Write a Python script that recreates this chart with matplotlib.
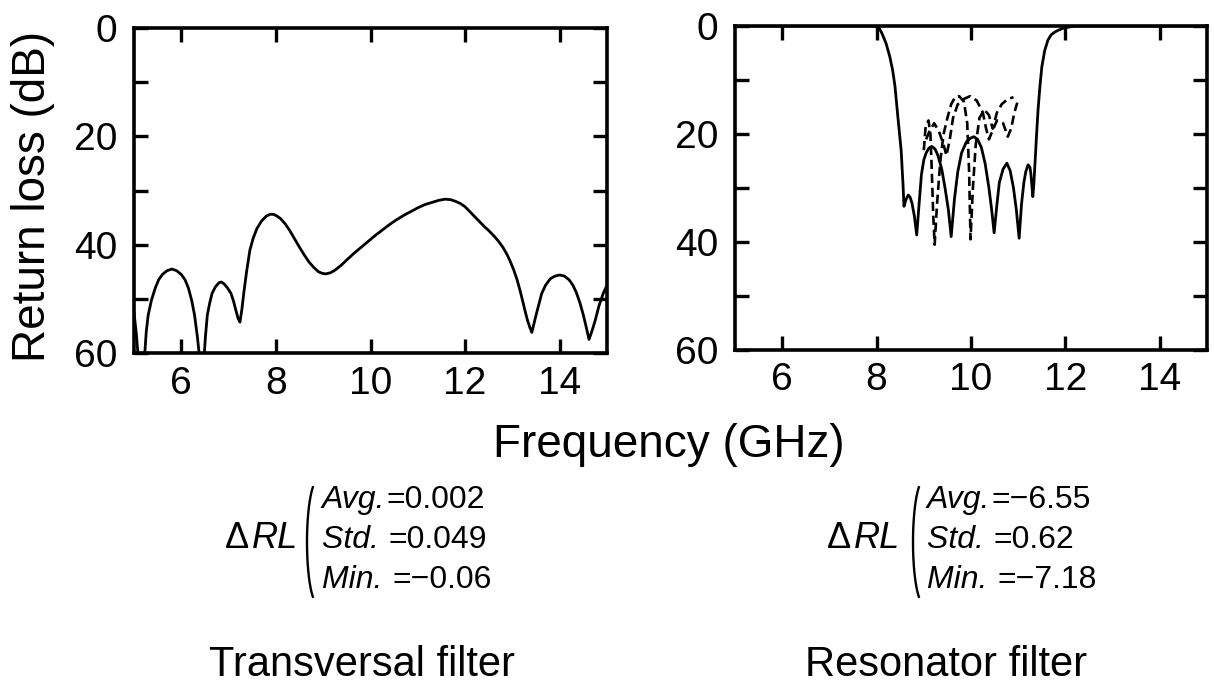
"""
Return loss of transversal vs resonator filter, redrawn from the paper figure.
"""
import numpy as np
import matplotlib
matplotlib.use('Agg')
import matplotlib.pyplot as plt
from matplotlib.lines import Line2D

plt.rcParams['font.family'] = ['Liberation Sans', 'DejaVu Sans']

# axis ticks
x_ticks = [6, 8, 10, 12, 14]
x_tick_labels = ['6', '8', '10', '12', '14']
y_ticks = [0, 10, 20, 30, 40, 50, 60]
y_tick_labels = ['0', '', '20', '', '40', '', '60']

# transversal filter, return loss (dB)
trans_freq = [5.00, 5.05, 5.10, 5.16, 5.22, 5.26, 5.30, 5.37, 5.45, 5.52, 5.60, 5.70, 5.80,
              5.90, 6.00, 6.08, 6.15, 6.22, 6.28, 6.34, 6.40, 6.45, 6.48, 6.51, 6.55,
              6.60, 6.65, 6.72, 6.80, 6.85, 6.90, 6.97, 7.05, 7.10, 7.15, 7.20, 7.24,
              7.28, 7.32, 7.38, 7.45, 7.52, 7.60, 7.70, 7.80, 7.88, 7.95, 8.02, 8.10,
              8.20, 8.30, 8.40, 8.50, 8.60, 8.70, 8.80, 8.90, 8.98, 9.05, 9.15, 9.25,
              9.38, 9.50, 9.65, 9.80, 9.95, 10.10, 10.25, 10.40, 10.55, 10.70, 10.85,
              11.00, 11.15, 11.30, 11.45, 11.58, 11.70, 11.80, 11.90, 12.00, 12.10,
              12.20, 12.30, 12.40, 12.50, 12.60, 12.70, 12.80, 12.88, 12.95, 13.03,
              13.10, 13.16, 13.22, 13.27, 13.32, 13.37, 13.41, 13.45, 13.50, 13.56,
              13.62, 13.70, 13.80, 13.90, 14.00, 14.10, 14.20, 14.28, 14.35, 14.43,
              14.50, 14.56, 14.62, 14.68, 14.75, 14.83, 14.92, 15.00]
trans_rl = [52.5, 56.5, 62.0, 64.0, 61.0, 56.0, 53.0, 50.2, 48.0, 46.5, 45.5, 44.8, 44.5,
            44.8, 45.5, 46.5, 48.0, 50.3, 53.0, 57.0, 62.0, 64.0, 61.0, 57.0, 53.0,
            50.8, 49.0, 47.8, 47.0, 46.9, 47.2, 47.9, 49.0, 50.3, 52.0, 53.6, 54.3,
            52.0, 49.0, 45.0, 41.0, 38.8, 37.0, 35.6, 34.7, 34.4, 34.4, 34.7, 35.2,
            36.2, 37.5, 39.0, 40.5, 41.9, 43.2, 44.2, 45.0, 45.3, 45.4, 45.2, 44.7,
            43.8, 42.8, 41.6, 40.5, 39.4, 38.3, 37.3, 36.3, 35.4, 34.6, 33.9,
            33.2, 32.6, 32.2, 31.8, 31.6, 31.7, 32.0, 32.4, 33.0, 33.9,
            34.8, 35.7, 36.6, 37.4, 38.3, 39.3, 40.5, 41.7, 43.0, 44.7,
            46.5, 48.4, 50.5, 52.3, 54.0, 55.3, 56.2, 54.8, 53.0, 51.0,
            49.0, 47.5, 46.3, 45.8, 45.6, 45.8, 46.5, 47.5, 48.8, 50.8,
            53.0, 55.2, 57.5, 56.0, 54.0, 51.3, 49.0, 47.5]

# resonator filter, designed response (solid)
res_freq = [5.00, 7.60, 7.90, 8.00, 8.06, 8.11, 8.20, 8.28, 8.34, 8.39, 8.45, 8.52, 8.56,
            8.58, 8.62, 8.67, 8.71, 8.75, 8.80, 8.85, 8.90, 8.95, 9.00, 9.05, 9.11,
            9.17, 9.24, 9.30, 9.38, 9.45, 9.52, 9.58, 9.65, 9.72, 9.80, 9.90, 9.98,
            10.06, 10.14, 10.22, 10.30, 10.38, 10.44, 10.49, 10.55, 10.60, 10.68,
            10.76, 10.83, 10.90, 10.96, 11.02, 11.07, 11.12, 11.16, 11.21, 11.25,
            11.27, 11.31, 11.33, 11.36, 11.39, 11.42, 11.46, 11.50, 11.56, 11.63,
            11.70, 11.80, 11.95, 12.20, 15.00]
res_rl = [0.0, 0.0, 0.0, 0.1, 0.5, 1.3, 3.2, 5.7, 8.2, 11.2, 16.8, 23.0, 29.4,
          33.4, 32.2, 31.3, 31.7, 32.8, 35.2, 38.7, 33.0, 27.5, 24.8, 23.5, 22.6,
          22.3, 22.8, 24.0, 26.5, 30.0, 34.0, 39.0, 32.0, 27.0, 23.5, 21.5, 20.8,
          20.5, 21.0, 22.5, 25.5, 30.0, 34.2, 38.3, 33.0, 29.0, 26.5,
          25.4, 26.8, 30.0, 34.0, 39.3, 33.0, 29.0, 27.0, 25.7, 26.2,
          27.5, 31.6, 29.5, 24.8, 20.0, 15.6, 11.2, 7.6, 4.6, 2.6,
          1.6, 1.0, 0.4, 0.0, 0.0]

# resonator filter, measured responses (dashed)
meas1_freq = [9.00, 9.04, 9.10, 9.14, 9.17, 9.20, 9.23, 9.28, 9.35, 9.42,
              9.50, 9.58, 9.66, 9.75, 9.85, 9.92, 9.96, 9.99, 10.04, 10.10,
              10.18, 10.28, 10.38, 10.46, 10.55, 10.65, 10.78, 10.90]
meas1_rl = [23.0, 18.5, 17.5, 20.0, 27.0, 35.0, 40.5, 33.0, 25.0, 20.0,
            17.0, 14.5, 13.2, 13.0, 14.0, 18.0, 27.0, 39.5, 30.0, 22.0,
            17.0, 15.5, 16.5, 19.0, 16.0, 14.5, 13.5, 13.2]
meas2_freq = [9.05, 9.12, 9.22, 9.32, 9.42, 9.48, 9.55, 9.62, 9.72, 9.85,
              9.98, 10.12, 10.25, 10.32, 10.38, 10.45, 10.55, 10.68, 10.78, 10.85,
              10.92, 10.98]
meas2_rl = [21.0, 19.5, 18.0, 19.5, 22.0, 24.0, 21.0, 17.0, 14.5, 13.5,
            13.0, 13.8, 16.0, 19.0, 21.0, 19.5, 17.5, 18.0, 20.5, 19.0,
            16.0, 14.2]

# statistics of the return loss change
stat_names = ['Avg.', 'Std. ', 'Min. ']
trans_stats = ['=0.002', '=0.049', '=\u22120.06']
res_stats = ['=\u22126.55', '=0.62', '=\u22127.18']

W, H = 1214, 683
fig = plt.figure(figsize=(W / 100, H / 100), dpi=100)
renderer = fig.canvas.get_renderer()


def fx(x):
    return x / W


def fy(y):
    return 1 - y / H


def setup_axes(ax):
    ax.set_xlim(5, 15)
    ax.set_ylim(60, 0)
    ax.set_xticks(x_ticks)
    ax.set_xticklabels(x_tick_labels)
    ax.set_yticks(y_ticks)
    ax.set_yticklabels(y_tick_labels)
    ax.tick_params(direction='in', length=10, width=2.4, top=True, right=True,
                   labelsize=28, colors='black')
    ax.tick_params(axis='x', pad=9)
    ax.tick_params(axis='y', pad=12)
    for s in ax.spines.values():
        s.set_linewidth(2.6)


ax1 = fig.add_axes([fx(134), fy(353), (607 - 134) / W, 325 / H])
setup_axes(ax1)
ax1.plot(trans_freq, trans_rl, color='black', lw=2.0, solid_joinstyle='round')

ax2 = fig.add_axes([fx(735), fy(350), (1207 - 735) / W, 324 / H])
setup_axes(ax2)
ax2.plot(res_freq, res_rl, color='black', lw=2.0, solid_joinstyle='round')
ax2.plot(meas1_freq, meas1_rl, color='black', lw=1.9, ls=(0, (3.5, 1.8)))
ax2.plot(meas2_freq, meas2_rl, color='black', lw=1.9, ls=(0, (3.5, 1.8)))

fig.text(fx(669), fy(457), 'Frequency (GHz)', fontsize=33, ha='center', va='baseline')
fig.text(fx(33), fy(196), 'Return loss (dB)', fontsize=33, rotation=90,
         ha='center', va='center')


def stats_block(x_delta, x_paren, x_text, values):
    d = fig.text(fx(x_delta), fy(548), '\u0394', fontsize=26, va='baseline')
    dx = d.get_window_extent(renderer).x1
    fig.text((dx + 3) / W, fy(548), 'RL', fontsize=26, style='italic', va='baseline')
    # the big bracket
    t = np.linspace(np.radians(118), np.radians(242), 40)
    px = x_paren + 11 + 11 * np.cos(t)
    py = 542 - 62 * np.sin(t)
    fig.add_artist(Line2D(fx(px), fy(py), transform=fig.transFigure,
                          color='black', lw=1.7))
    for i, (name, val) in enumerate(zip(stat_names, values)):
        yb = fy(508 + 40 * i)
        n = fig.text(fx(x_text), yb, name, fontsize=23, style='italic', va='baseline')
        nx = n.get_window_extent(renderer).x1
        fig.text((nx + 1) / W, yb, val, fontsize=23, va='baseline')


stats_block(225, 307, 322, trans_stats)
stats_block(827, 913, 927, res_stats)

fig.text(fx(362), fy(676), 'Transversal filter', fontsize=30, ha='center', va='baseline')
fig.text(fx(946), fy(676), 'Resonator filter', fontsize=30, ha='center', va='baseline')

fig.savefig('out.png', dpi=100)
